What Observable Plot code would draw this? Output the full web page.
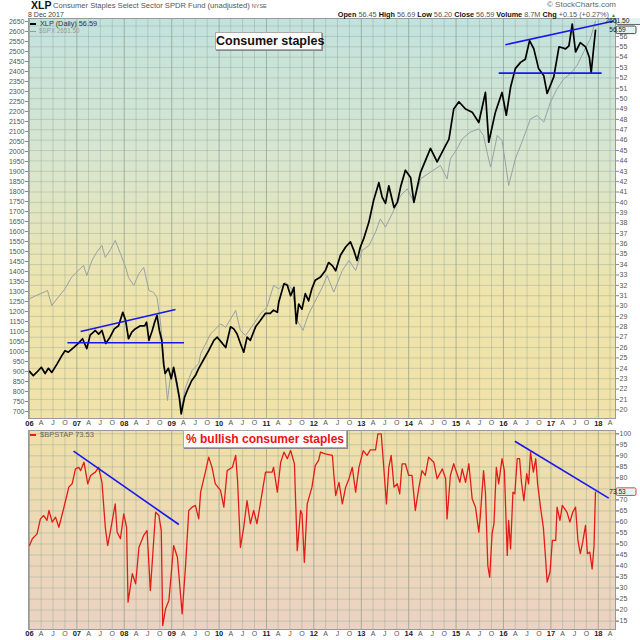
<!DOCTYPE html>
<html><head><meta charset="utf-8">
<script src="https://cdn.jsdelivr.net/npm/d3@7"></script>
<script src="https://cdn.jsdelivr.net/npm/@observablehq/plot@0.6"></script>
<style>
body{margin:0;background:#fff;font-family:"Liberation Sans",Arial,sans-serif;}
#wrap{position:relative;width:640px;height:640px;overflow:hidden;}
.abs{position:absolute;white-space:nowrap;line-height:1;}
#c1 svg,#c2 svg{display:block;}
.hb{font-weight:bold;color:#111;}
.hv{color:#555;}
</style></head><body>
<svg width="0" height="0" style="position:absolute">
<defs>
<linearGradient id="gMain" x1="0" y1="0" x2="0" y2="1">
<stop offset="0" stop-color="#c2e2de"/>
<stop offset="0.35" stop-color="#d8e6cf"/>
<stop offset="0.7" stop-color="#efe4ab"/>
<stop offset="1" stop-color="#f1e2a8"/>
</linearGradient>
<linearGradient id="gLow" x1="0" y1="0" x2="0" y2="1">
<stop offset="0" stop-color="#efe0a8"/>
<stop offset="1" stop-color="#ebd2c3"/>
</linearGradient>
</defs></svg>
<div id="wrap">
<div style="height:18px"></div>
<div id="c1"></div>
<div id="c2"></div>

<div class="abs" style="left:31px;top:0px;font-size:10.5px;font-weight:bold;color:#111">XLP</div>
<div class="abs" style="left:53px;top:2px;font-size:7.6px;color:#555">Consumer Staples Select Sector SPDR Fund (unadjusted) <span style="font-size:5.5px">NYSE</span></div>
<div class="abs" style="left:28px;top:10.5px;font-size:7px;color:#444">8 Dec 2017</div>
<div class="abs" style="right:24px;top:1px;font-size:8px;color:#666">© StockCharts.com</div>
<div class="abs" style="right:24px;top:10.5px;font-size:7.3px"><span class="hb">Open</span> <span class="hv">56.45</span> <span class="hb">High</span> <span class="hv">56.69</span> <span class="hb">Low</span> <span class="hv">56.20</span> <span class="hb">Close</span> <span class="hv">56.59</span> <span class="hb">Volume</span> <span class="hv">8.7M</span> <span class="hb">Chg</span> <span class="hv">+0.15 (+0.27%)</span> <span style="color:#2a9a2a;font-size:5px">▲</span></div>

<div class="abs" style="left:30px;top:19.5px;font-size:7.3px;color:#333"><span style="display:inline-block;width:6px;height:2px;background:#000;vertical-align:middle;margin-right:4px"></span>XLP (Daily) 56.59</div>
<div class="abs" style="left:30px;top:28px;font-size:6.3px;color:#999"><span style="display:inline-block;width:6px;height:1.5px;background:#999;vertical-align:middle;margin-right:3px"></span>$SPX 2651.50</div>
<div class="abs" style="left:215px;top:32px;width:105px;height:16px;background:#fff;border:1px solid #aaa;box-shadow:1px 1px 0 #888;font-size:12.5px;font-weight:bold;color:#111;text-align:center;line-height:16px">Consumer staples</div>

<div class="abs" style="left:30px;top:431px;font-size:7.5px;color:#666"><span style="display:inline-block;width:6px;height:2px;background:#e0201a;vertical-align:middle;margin-right:4px"></span>$BPSTAP 73.53</div>
<div class="abs" style="left:183px;top:430px;width:162px;height:16px;background:#fff;border:1px solid #aaa;box-shadow:1px 1px 0 #888;font-size:12px;font-weight:bold;color:#ee1111;text-align:center;line-height:16px">% bullish consumer staples</div>
</div>
<script>
// ---------- data (decimal year, value) ----------
const xlpSeries = [
[2006.00,23.7],[2006.08,23.3],[2006.15,23.6],[2006.25,24.1],[2006.33,23.5],[2006.40,24.0],[2006.47,23.6],[2006.58,24.4],[2006.68,25.2],[2006.75,25.7],
[2006.82,25.55],[2006.93,26.0],[2007.03,26.4],[2007.12,26.85],[2007.21,25.9],[2007.28,27.2],[2007.39,27.65],[2007.46,27.3],[2007.53,27.65],[2007.61,26.4],
[2007.70,27.0],[2007.79,27.8],[2007.88,28.1],[2007.97,29.4],[2008.03,28.6],[2008.09,26.85],[2008.16,27.5],[2008.23,27.8],[2008.34,28.1],[2008.43,28.1],
[2008.47,28.45],[2008.52,26.7],[2008.59,27.65],[2008.64,28.45],[2008.69,29.1],[2008.74,27.65],[2008.79,26.7],[2008.83,24.4],[2008.86,23.5],[2008.93,24.0],
[2008.99,23.0],[2009.04,24.1],[2009.11,22.5],[2009.16,21.2],[2009.20,19.6],[2009.27,21.2],[2009.34,22.0],[2009.42,22.8],[2009.50,23.3],[2009.57,24.0],
[2009.68,24.9],[2009.78,25.7],[2009.89,26.7],[2009.96,27.0],[2010.07,26.4],[2010.14,26.0],[2010.24,28.0],[2010.31,27.8],[2010.38,27.3],[2010.45,26.4],
[2010.52,25.55],[2010.59,27.0],[2010.66,26.7],[2010.77,28.0],[2010.87,28.6],[2010.98,29.3],[2011.08,29.3],[2011.15,29.6],[2011.23,29.4],[2011.26,30.4],
[2011.37,32.15],[2011.44,32.0],[2011.51,31.0],[2011.58,31.8],[2011.63,28.3],[2011.68,30.2],[2011.75,29.7],[2011.82,31.2],[2011.89,30.5],[2011.96,31.7],
[2012.03,32.5],[2012.14,32.8],[2012.24,33.4],[2012.31,34.2],[2012.39,33.9],[2012.46,33.4],[2012.56,34.9],[2012.67,35.7],[2012.77,36.2],[2012.84,35.4],
[2012.91,34.4],[2012.98,35.7],[2013.05,36.5],[2013.16,38.1],[2013.26,40.2],[2013.37,41.9],[2013.44,40.5],[2013.51,39.9],[2013.58,41.6],[2013.69,39.5],
[2013.76,40.0],[2013.83,41.5],[2013.93,43.1],[2014.04,42.4],[2014.11,40.0],[2014.25,42.9],[2014.46,45.2],[2014.60,43.9],[2014.78,45.5],[2014.85,46.1],
[2014.95,49.0],[2015.06,49.7],[2015.20,49.0],[2015.34,48.7],[2015.48,47.7],[2015.62,50.6],[2015.69,45.8],[2015.83,48.7],[2015.97,50.6],[2016.06,48.4],
[2016.15,51.1],[2016.25,52.9],[2016.36,53.5],[2016.46,53.8],[2016.55,55.6],[2016.64,54.8],[2016.74,52.9],[2016.85,52.2],[2016.92,50.5],[2017.06,52.1],
[2017.17,55.0],[2017.31,54.8],[2017.38,55.1],[2017.45,57.2],[2017.52,54.5],[2017.62,55.4],[2017.73,55.0],[2017.81,54.0],[2017.85,52.5],[2017.90,54.8],
[2017.94,56.59]
];
const spxSeries = [
[2006.00,1263],[2006.14,1280],[2006.31,1297],[2006.38,1305],[2006.47,1230],[2006.61,1272],[2006.75,1313],[2006.89,1372],[2007.03,1405],[2007.14,1430],
[2007.21,1380],[2007.32,1455],[2007.42,1497],[2007.53,1530],[2007.60,1470],[2007.71,1510],[2007.81,1555],[2007.92,1490],[2008.03,1420],[2008.09,1370],
[2008.20,1330],[2008.31,1390],[2008.41,1420],[2008.52,1305],[2008.62,1295],[2008.69,1270],[2008.76,1155],[2008.83,970],[2008.91,755],[2008.97,870],
[2009.04,905],[2009.12,805],[2009.21,720],[2009.29,820],[2009.43,905],[2009.57,940],[2009.61,988],[2009.82,1088],[2010.03,1138],[2010.14,1121],
[2010.35,1205],[2010.45,1105],[2010.56,1080],[2010.73,1138],[2010.87,1188],[2011.01,1221],[2011.15,1330],[2011.26,1313],[2011.40,1347],[2011.54,1313],
[2011.65,1155],[2011.77,1105],[2011.89,1188],[2012.00,1238],[2012.18,1322],[2012.28,1380],[2012.42,1297],[2012.60,1405],[2012.74,1455],[2012.88,1405],
[2013.02,1505],[2013.16,1530],[2013.30,1597],[2013.40,1663],[2013.51,1622],[2013.65,1688],[2013.83,1780],[2013.97,1813],[2014.11,1747],[2014.25,1863],
[2014.46,1897],[2014.67,1930],[2014.81,1863],[2014.88,1963],[2015.02,2013],[2015.13,2063],[2015.30,2097],[2015.48,2113],[2015.58,2080],[2015.67,1980],
[2015.73,1922],[2015.87,2080],[2015.97,2055],[2016.04,1947],[2016.11,1830],[2016.25,1963],[2016.39,2047],[2016.57,2163],[2016.71,2180],[2016.85,2147],
[2016.99,2247],[2017.13,2313],[2017.27,2363],[2017.41,2388],[2017.55,2430],[2017.69,2497],[2017.83,2563],[2017.94,2651.5]
];
const bpSeries = [
[2006.00,49.3],[2006.06,52.4],[2006.16,54.6],[2006.23,61.4],[2006.30,62.9],[2006.37,60.7],[2006.41,65.2],[2006.48,59.9],[2006.55,62.2],[2006.62,57.6],
[2006.72,66.0],[2006.83,75.8],[2006.90,77.3],[2006.97,84.1],[2007.04,84.8],[2007.08,83.3],[2007.15,87.1],[2007.23,77.3],[2007.29,81.1],[2007.39,82.6],
[2007.46,84.8],[2007.53,78.0],[2007.60,57.6],[2007.65,49.3],[2007.71,56.1],[2007.81,68.2],[2007.85,55.4],[2007.92,52.4],[2007.99,63.7],[2008.05,57.6],
[2008.08,23.6],[2008.17,36.5],[2008.24,31.9],[2008.31,48.5],[2008.41,53.9],[2008.48,56.1],[2008.55,28.9],[2008.66,64.4],[2008.73,62.9],[2008.78,56.1],
[2008.81,13.0],[2008.87,20.6],[2008.94,24.4],[2008.99,36.5],[2009.04,49.3],[2009.12,44.0],[2009.22,18.3],[2009.29,39.5],[2009.36,65.2],[2009.43,66.7],
[2009.50,67.5],[2009.57,61.4],[2009.61,73.5],[2009.71,82.6],[2009.78,89.4],[2009.85,84.8],[2009.92,77.3],[2010.03,74.3],[2010.10,66.7],[2010.17,83.3],
[2010.28,84.8],[2010.35,90.2],[2010.39,78.8],[2010.45,48.5],[2010.52,57.6],[2010.59,69.7],[2010.66,59.2],[2010.73,65.2],[2010.80,59.2],[2010.87,68.2],
[2010.98,82.6],[2011.12,82.6],[2011.15,84.8],[2011.23,73.5],[2011.30,87.1],[2011.37,91.7],[2011.44,88.7],[2011.51,92.4],[2011.59,86.4],[2011.65,47.0],
[2011.72,65.2],[2011.75,63.7],[2011.80,41.7],[2011.86,68.2],[2011.96,75.8],[2012.03,85.6],[2012.10,87.9],[2012.14,91.7],[2012.24,90.9],[2012.39,90.2],
[2012.42,81.9],[2012.46,72.0],[2012.53,78.0],[2012.60,68.2],[2012.67,75.8],[2012.74,79.6],[2012.81,84.8],[2012.88,73.5],[2012.95,84.8],[2013.04,92.4],
[2013.12,90.2],[2013.19,92.7],[2013.30,92.7],[2013.35,100],[2013.42,100],[2013.46,88.7],[2013.53,68.2],[2013.58,84.8],[2013.63,90.2],[2013.69,75.8],
[2013.76,77.3],[2013.81,72.8],[2013.86,86.4],[2013.93,86.4],[2014.00,81.1],[2014.07,81.1],[2014.14,65.2],[2014.21,75.0],[2014.28,83.3],[2014.35,81.1],
[2014.42,89.4],[2014.53,87.1],[2014.60,79.6],[2014.71,84.1],[2014.78,79.6],[2014.81,61.4],[2014.88,81.1],[2014.95,86.4],[2015.02,81.9],[2015.08,78.0],
[2015.13,84.1],[2015.20,78.0],[2015.27,86.4],[2015.34,70.5],[2015.41,66.7],[2015.48,55.4],[2015.51,62.2],[2015.58,83.3],[2015.62,73.5],[2015.67,40.2],
[2015.71,34.9],[2015.76,54.6],[2015.80,59.2],[2015.85,84.8],[2015.90,77.3],[2015.97,88.7],[2016.02,83.3],[2016.08,44.8],[2016.11,60.7],[2016.15,47.8],
[2016.20,73.5],[2016.24,72.8],[2016.29,88.7],[2016.34,88.7],[2016.38,78.0],[2016.43,69.7],[2016.49,81.9],[2016.53,77.3],[2016.57,91.7],[2016.63,82.6],
[2016.68,88.7],[2016.72,77.3],[2016.78,66.7],[2016.84,57.6],[2016.89,42.5],[2016.92,32.7],[2016.98,37.2],[2017.03,51.6],[2017.10,51.6],[2017.13,66.7],
[2017.19,60.7],[2017.24,67.5],[2017.34,64.4],[2017.40,59.9],[2017.46,64.4],[2017.52,66.7],[2017.57,51.6],[2017.62,45.6],[2017.67,50.8],[2017.73,58.4],
[2017.77,45.6],[2017.82,46.3],[2017.87,38.7],[2017.91,49.3],[2017.925,61.4],[2017.94,73.53]
];
// trend lines [t1, v1, t2, v2]
const mainTrends = [[2007.08,27.55,2009.08,29.67],[2006.80,26.46,2009.26,26.46],[2016.04,55.2,2018.33,57.48],[2015.90,52.46,2018.07,52.46]];
const lowTrends = [[2006.93,92.1,2009.15,58.85],[2016.24,96.6,2018.22,70.8]];
const spxTicks = d3.range(700, 2651, 50);
const xlpTicks = d3.range(20, 58, 1);
const xlpLabelTicks = d3.range(20, 57, 1);
const bpTicks = d3.range(15, 101, 5);
const bpLabelTicks = bpTicks.filter(v => v !== 75);
const quarterLabels = ["A", "J", "O"];
const lastXlp = 56.59, lastSpx = 2651.5, lastBp = 73.53;

// ---------- helpers ----------
const toDate = t => { const y = Math.floor(t); const a = Date.UTC(y,0,1), b = Date.UTC(y+1,0,1); return new Date(a + (t - y) * (b - a)); };
// SPX overlay shares the panel with its own left-hand scale
const spxToY = s => 20 + ((s - 700) * 0.2 - 1.7) / 10.37;
const yToSpx = y => 700 + ((y - 20) * 10.37 + 1.7) / 0.2;
const xDomain = [toDate(2005.979), toDate(2018.363)];
const qTicks = d3.utcMonth.every(3).range(new Date(Date.UTC(2006,0,1)), new Date(Date.UTC(2018,4,2)));
const yTicks = qTicks.filter(d => d.getUTCMonth() === 0);
const oTicks = qTicks.filter(d => d.getUTCMonth() !== 0);
const yyFmt = d => String(d.getUTCFullYear() % 100).padStart(2, "0");
const qFmt = d => quarterLabels[d.getUTCMonth() / 3 - 1];

const xlpData = xlpSeries.map(([t, v]) => ({date: toDate(t), v}));
const spxData = spxSeries.map(([t, v]) => ({date: toDate(t), v}));
const bpData = bpSeries.map(([t, v]) => ({date: toDate(t), v}));
const linkData = arr => arr.map(([t1, v1, t2, v2]) => ({d1: toDate(t1), v1, d2: toDate(t2), v2}));

const tag = (yv, label, stroke, w) => (index, scales, values, dims) => {
  const y = scales.y(yv);
  const x = dims.width - dims.marginRight + 1;
  const g = d3.create("svg:g");
  g.append("rect").attr("x", x).attr("y", y - 3.8).attr("width", w).attr("height", 7.6).attr("rx", 1.5)
    .attr("fill", "#e2f4f2").attr("stroke", stroke).attr("stroke-width", 0.9);
  g.append("text").attr("x", x + 1.5).attr("y", y).attr("dy", "0.35em").attr("font-size", 6.6)
    .attr("font-family", "Liberation Sans, Arial, sans-serif").attr("fill", "#222").text(label);
  return g.node();
};

const axisStyle = {fontSize: 7, fill: "#555"};
const xAxes = (pad) => [
  Plot.axisX(yTicks, {anchor: "bottom", tickSize: 0, tickPadding: pad, tickFormat: yyFmt, fontSize: 7.5, fontWeight: "bold", fill: "#222"}),
  Plot.axisX(oTicks, {anchor: "bottom", tickSize: 0, tickPadding: pad, tickFormat: qFmt, fontSize: 7, fill: "#555"})
];
const grids = (yt) => [
  Plot.gridX(oTicks, {stroke: "#8fa090", strokeOpacity: 0.4, strokeWidth: 1}),
  Plot.gridX(yTicks, {stroke: "#7f907f", strokeOpacity: 0.6, strokeWidth: 1}),
  Plot.gridY(yt, {stroke: "#8fa090", strokeOpacity: 0.38, strokeWidth: 1})
];

// ---------- main panel ----------
const main = Plot.plot({
  width: 640, height: 412,
  marginTop: 0, marginBottom: 12, marginLeft: 28, marginRight: 25,
  style: {background: "transparent", fontFamily: "Liberation Sans, Arial, sans-serif"},
  x: {type: "utc", domain: xDomain},
  y: {domain: [19.16, 57.73]},
  marks: [
    Plot.frame({fill: "url(#gMain)"}),
    ...grids(xlpTicks),
    Plot.line(spxData, {x: "date", y: d => spxToY(d.v), stroke: "#97a1a6", strokeWidth: 1, clip: true}),
    Plot.line(xlpData, {x: "date", y: "v", stroke: "#000", strokeWidth: 1.7, clip: true}),
    Plot.link(linkData(mainTrends), {x1: "d1", y1: "v1", x2: "d2", y2: "v2", stroke: "#1818f0", strokeWidth: 1.6}),
    Plot.frame({stroke: "#999"}),
    Plot.axisY(spxTicks.map(spxToY), {anchor: "left", tickSize: 3, tickPadding: 1, stroke: "#888",
      tickFormat: d => String(Math.round(yToSpx(d) / 50) * 50), ...axisStyle}),
    Plot.axisY(xlpLabelTicks, {anchor: "right", tickSize: 3, tickPadding: 1, stroke: "#888", ...axisStyle}),
    ...xAxes(2),
    tag(spxToY(lastSpx), lastSpx.toFixed(2), "#555", 26),
    tag(lastXlp, lastXlp.toFixed(2), "#333", 20)
  ]
});
document.getElementById("c1").append(main);

// ---------- lower panel ----------
const low = Plot.plot({
  width: 640, height: 210,
  marginTop: 0, marginBottom: 11, marginLeft: 28, marginRight: 25,
  style: {background: "transparent", fontFamily: "Liberation Sans, Arial, sans-serif"},
  x: {type: "utc", domain: xDomain},
  y: {domain: [11.2, 101.5]},
  marks: [
    Plot.frame({fill: "url(#gLow)"}),
    ...grids(bpTicks),
    Plot.line(bpData, {x: "date", y: "v", stroke: "#e41c16", strokeWidth: 1.3, clip: true}),
    Plot.link(linkData(lowTrends), {x1: "d1", y1: "v1", x2: "d2", y2: "v2", stroke: "#1818f0", strokeWidth: 1.6}),
    Plot.frame({stroke: "#999"}),
    Plot.axisY(bpTicks, {anchor: "right", tickSize: 3, tickFormat: () => "", stroke: "#888", ...axisStyle}),
    Plot.axisY(bpLabelTicks, {anchor: "right", tickSize: 3, tickPadding: 1, stroke: "#888", ...axisStyle}),
    ...xAxes(1.5),
    tag(lastBp, lastBp.toFixed(2), "#e03030", 20)
  ]
});
document.getElementById("c2").append(low);
</script>
</body></html>
